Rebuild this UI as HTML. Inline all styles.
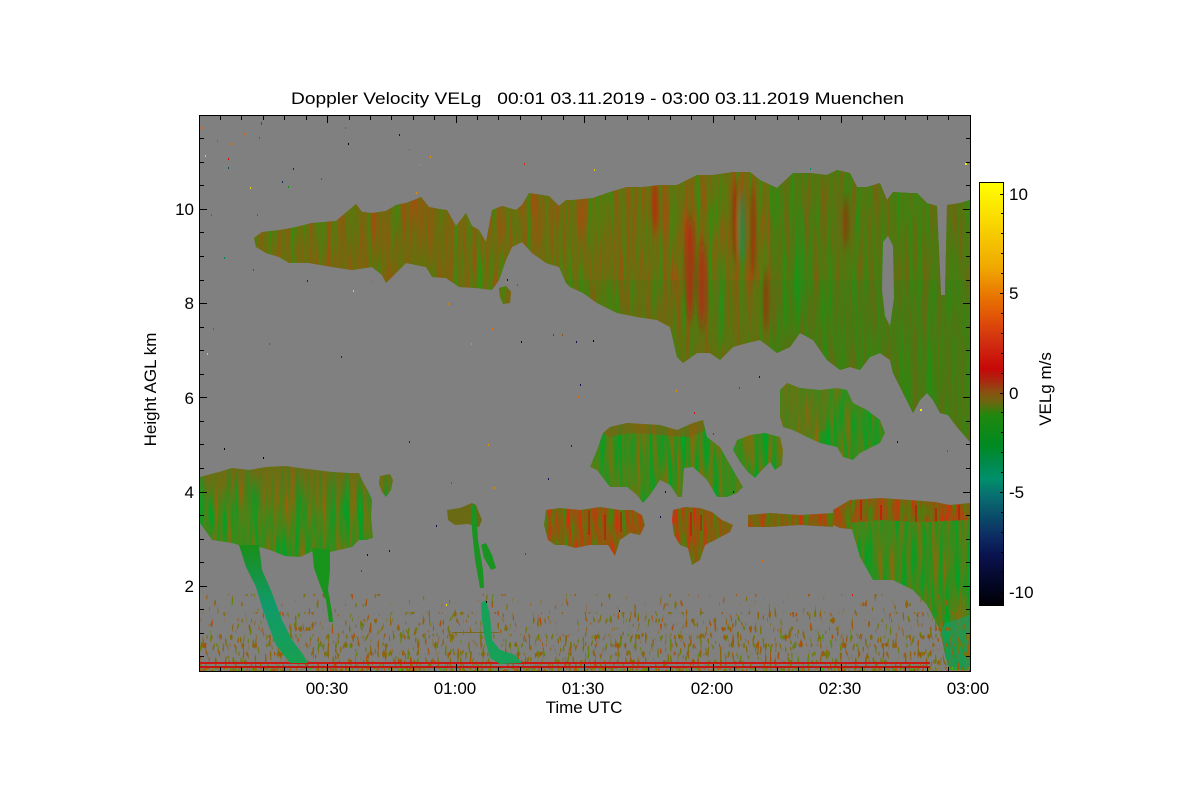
<!DOCTYPE html>
<html><head><meta charset="utf-8"><style>html,body{margin:0;padding:0;background:#fff}svg{display:block}</style></head>
<body>
<svg width="1200" height="800" viewBox="0 0 1200 800" xmlns="http://www.w3.org/2000/svg" font-family="'Liberation Sans', Arial, sans-serif">
<defs>
<filter id="tMix" filterUnits="userSpaceOnUse" x="199" y="115" width="772" height="557" color-interpolation-filters="sRGB">
<feTurbulence type="fractalNoise" baseFrequency="0.22 0.01" numOctaves="3" seed="3"/>
<feColorMatrix type="matrix" values="-1.25 0 0 0 1.05  0.65 0 0 0 0.10  0 0 0 0 0.06  0 0 0 0 1"/>
</filter>
<filter id="tOlive" filterUnits="userSpaceOnUse" x="199" y="115" width="772" height="557" color-interpolation-filters="sRGB">
<feTurbulence type="fractalNoise" baseFrequency="0.22 0.012" numOctaves="3" seed="11"/>
<feColorMatrix type="matrix" values="-0.7 0 0 0 0.78  0.4 0 0 0 0.23  0 0 0 0 0.06  0 0 0 0 1"/>
</filter>
<filter id="tGreen" filterUnits="userSpaceOnUse" x="199" y="115" width="772" height="557" color-interpolation-filters="sRGB">
<feTurbulence type="fractalNoise" baseFrequency="0.22 0.015" numOctaves="3" seed="21"/>
<feColorMatrix type="matrix" values="-1.0 0 0 0 0.75  0.4 0 0 0 0.33  0.2 0 0 0 0.0  0 0 0 0 1"/>
</filter>
<filter id="tBrown" filterUnits="userSpaceOnUse" x="199" y="115" width="772" height="557" color-interpolation-filters="sRGB">
<feTurbulence type="fractalNoise" baseFrequency="0.25 0.03" numOctaves="3" seed="31"/>
<feColorMatrix type="matrix" values="-1.0 0 0 0 1.03  0.6 0 0 0 0.06  0 0 0 0 0.05  0 0 0 0 1"/>
</filter>
<filter id="spkA" filterUnits="userSpaceOnUse" x="200" y="594" width="770" height="77" color-interpolation-filters="sRGB">
<feTurbulence type="fractalNoise" baseFrequency="0.35 0.1" numOctaves="1" seed="7"/>
<feColorMatrix type="matrix" values="0 -0.7 0 0 0.88  0 0.5 0 0 0.16  0 0 0 0 0.05  20 0 0 0 -13.2"/>
</filter>
<filter id="spkB" filterUnits="userSpaceOnUse" x="200" y="612" width="770" height="59" color-interpolation-filters="sRGB">
<feTurbulence type="fractalNoise" baseFrequency="0.4 0.12" numOctaves="1" seed="19"/>
<feColorMatrix type="matrix" values="0 -0.7 0 0 0.88  0 0.5 0 0 0.16  0 0 0 0 0.05  20 0 0 0 -12.6"/>
</filter>
<filter id="spkC" filterUnits="userSpaceOnUse" x="200" y="634" width="770" height="37" color-interpolation-filters="sRGB">
<feTurbulence type="fractalNoise" baseFrequency="0.4 0.12" numOctaves="1" seed="29"/>
<feColorMatrix type="matrix" values="0 -0.8 0 0 0.92  0 0.6 0 0 0.12  0 0 0 0 0.05  20 0 0 0 -12.2"/>
</filter>
<filter id="spkD" filterUnits="userSpaceOnUse" x="200" y="667" width="770" height="4" color-interpolation-filters="sRGB">
<feTurbulence type="fractalNoise" baseFrequency="0.5 0.3" numOctaves="1" seed="41"/>
<feColorMatrix type="matrix" values="0 -1.2 0 0 1.1  0 0.9 0 0 0.05  0 0 0 0 0.06  20 0 0 0 -10.6"/>
</filter>
<filter id="bl" filterUnits="userSpaceOnUse" x="199" y="115" width="772" height="557">
<feGaussianBlur stdDeviation="1.5 7"/>
</filter>
<linearGradient id="cbar" x1="0" y1="0" x2="0" y2="1">
<stop offset="0" stop-color="#ffff00"/>
<stop offset="0.10" stop-color="#f8d400"/>
<stop offset="0.20" stop-color="#f0a800"/>
<stop offset="0.27" stop-color="#e87400"/>
<stop offset="0.32" stop-color="#e05208"/>
<stop offset="0.38" stop-color="#d02c10"/>
<stop offset="0.44" stop-color="#c80808"/>
<stop offset="0.47" stop-color="#a82a10"/>
<stop offset="0.495" stop-color="#8a5010"/>
<stop offset="0.52" stop-color="#6a6810"/>
<stop offset="0.55" stop-color="#20880e"/>
<stop offset="0.62" stop-color="#008a20"/>
<stop offset="0.66" stop-color="#008a48"/>
<stop offset="0.70" stop-color="#00906a"/>
<stop offset="0.74" stop-color="#087070"/>
<stop offset="0.79" stop-color="#0a4c6a"/>
<stop offset="0.84" stop-color="#0c2a62"/>
<stop offset="0.88" stop-color="#0a1450"/>
<stop offset="0.93" stop-color="#060a30"/>
<stop offset="1" stop-color="#000005"/>
</linearGradient>
<linearGradient id="gDrip" x1="0" y1="545" x2="0" y2="665" gradientUnits="userSpaceOnUse">
<stop offset="0" stop-color="#1a8e18"/><stop offset="0.5" stop-color="#109a6a"/><stop offset="1" stop-color="#18a050"/>
</linearGradient>
<linearGradient id="gBrTop" x1="0" y1="465" x2="0" y2="515" gradientUnits="userSpaceOnUse">
<stop offset="0" stop-color="#8a5a10" stop-opacity="0.6"/><stop offset="1" stop-color="#8a5a10" stop-opacity="0"/>
</linearGradient>
<clipPath id="cMain">
<polygon points="254,238 262,232 280,230 296,227 312,223 336,221 349,210 356,204 362,212 372,213 386,211 396,205 406,203 414,200 421,197 429,207 439,209 447,210 456,226 466,213 472,226 479,230 486,242 492,210 502,206 516,210 522,205 529,193 549,196 559,206 566,200 573,200 593,198 610,192 627,187 643,187 660,185 677,185 697,175 713,175 733,172 750,172 760,180 777,188 793,173 810,173 827,175 837,170 850,173 857,187 867,187 880,183 887,200 893,192 910,193 917,193 927,203 937,206 941,295 945,295 947,205 960,203 970,200 970,442 957,427 948,415 940,413 933,400 927,393 920,400 913,413 903,393 893,373 890,360 880,353 870,357 860,370 850,367 840,370 827,360 813,340 800,333 790,347 777,353 760,340 747,343 733,347 720,360 710,353 697,353 683,363 677,357 670,327 657,320 637,317 617,313 597,303 583,293 570,287 566,283 559,267 546,263 532,253 522,242 512,247 506,260 499,280 492,290 476,288 459,287 446,278 432,277 426,267 406,263 396,273 386,283 382,275 372,267 352,270 332,267 309,263 289,263 279,257 266,253 256,247"/>
<polygon points="499,288 506,286 511,292 510,303 503,304 500,297"/>
</clipPath>
<clipPath id="cLeft">
<polygon points="200,477 219,472 232,468 249,470 266,467 286,466 299,468 316,470 332,472 349,473 359,473 362,480 369,493 372,500 371,517 373,538 366,540 359,540 352,547 339,550 330,552 315,550 300,557 285,556 270,550 259,547 245,547 232,543 212,540 200,523"/>
<polygon points="380,476 390,474 393,480 391,490 386,497 382,492 379,484"/>
</clipPath>
<clipPath id="cMid">
<polygon points="603,433 610,427 627,423 660,425 677,430 693,423 703,420 707,437 720,447 733,470 743,487 737,493 727,497 717,497 707,480 693,467 684,468 682,497 678,497 670,485 660,480 650,495 643,503 637,495 627,487 610,487 597,470 590,467 597,450"/>
<polygon points="737,440 750,435 765,433 780,437 783,450 782,465 775,470 770,462 762,470 755,478 748,472 740,462 733,450"/>
<polygon points="780,390 787,383 800,388 820,390 837,388 847,390 853,403 867,410 880,420 885,433 880,443 860,453 853,460 843,457 837,447 820,443 807,437 793,430 783,427 780,417"/>
</clipPath>
<clipPath id="cLow">
<polygon points="546,510 560,508 580,510 600,507 620,510 633,510 642,515 645,525 640,535 630,533 620,540 615,556 608,545 590,545 575,548 565,545 555,545 548,540 544,525"/>
<polygon points="673,510 685,507 700,508 712,512 722,520 733,525 730,532 715,540 705,545 700,560 692,565 688,548 680,545 674,535 672,520"/>
<polygon points="748,515 770,513 800,515 833,513 833,527 800,525 770,527 748,527"/>
<polygon points="833,510 850,500 880,498 910,500 935,502 950,505 970,503 970,532 940,530 900,528 860,530 840,528 833,525"/>
</clipPath>
<clipPath id="cLR">
<polygon points="850,523 880,520 920,522 970,520 970,670 950,670 945,655 940,630 927,605 913,590 893,580 873,580 860,557"/>
</clipPath>
</defs>

<rect width="1200" height="800" fill="#fff"/>
<rect x="199" y="115" width="771" height="556" fill="#808080"/>

<!-- main high cloud mass -->
<rect x="199" y="115" width="771" height="556" filter="url(#tMix)" clip-path="url(#cMain)"/>
<g clip-path="url(#cMain)">
<rect x="199" y="115" width="365" height="556" filter="url(#tOlive)" opacity="0.9"/>
<rect x="340" y="115" width="110" height="200" fill="#8a5a10" opacity="0.15"/>
<rect x="770" y="115" width="200" height="330" fill="#109018" opacity="0.28"/>
<rect x="560" y="280" width="410" height="170" fill="#109018" opacity="0.15"/>
<g filter="url(#bl)">
<ellipse cx="690" cy="268" rx="5" ry="50" fill="#c80c0c" opacity="0.6"/>
<ellipse cx="702" cy="285" rx="5" ry="42" fill="#c80c0c" opacity="0.55"/>
<ellipse cx="735" cy="222" rx="3" ry="40" fill="#c80c0c" opacity="0.45"/>
<ellipse cx="753" cy="232" rx="3" ry="45" fill="#c80c0c" opacity="0.4"/>
<ellipse cx="766" cy="300" rx="3" ry="30" fill="#c80c0c" opacity="0.4"/>
<ellipse cx="846" cy="222" rx="3" ry="25" fill="#c80c0c" opacity="0.4"/>
<ellipse cx="655" cy="205" rx="3" ry="25" fill="#c80c0c" opacity="0.35"/>
<ellipse cx="742" cy="228" rx="4" ry="35" fill="#00986a" opacity="0.5"/>
<ellipse cx="800" cy="260" rx="6" ry="60" fill="#10a020" opacity="0.3"/>
<ellipse cx="720" cy="300" rx="5" ry="45" fill="#10a020" opacity="0.3"/>
</g>
</g>
<polygon points="883,242 888,236 893,246 894,298 890,326 885,316 882,290" fill="#808080"/>

<!-- left low cloud -->
<rect x="199" y="460" width="200" height="100" filter="url(#tGreen)" clip-path="url(#cLeft)"/>
<rect x="199" y="460" width="200" height="60" fill="url(#gBrTop)" clip-path="url(#cLeft)"/>

<!-- mid-level lumps -->
<rect x="585" y="380" width="305" height="130" filter="url(#tGreen)" clip-path="url(#cMid)"/>
<polygon points="603,433 610,427 627,423 660,425 677,430 693,423 703,420 705,430 690,437 670,436 650,434 630,433 610,437" fill="#8a5a10" opacity="0.6"/>
<polygon points="780,390 787,383 800,388 820,390 830,389 825,430 807,437 793,430 783,427 780,417" fill="#8a6010" opacity="0.35"/>

<!-- low band -->
<rect x="540" y="495" width="431" height="75" filter="url(#tBrown)" clip-path="url(#cLow)"/>
<g fill="#c01010" opacity="0.55" clip-path="url(#cLow)">
<rect x="588" y="510" width="2" height="25"/><rect x="604" y="515" width="2" height="25"/>
<rect x="690" y="512" width="2" height="24"/><rect x="700" y="515" width="2" height="16"/>
<rect x="860" y="500" width="2" height="20"/><rect x="880" y="505" width="2" height="20"/>
<rect x="915" y="505" width="2" height="20"/><rect x="935" y="508" width="2" height="14"/>
<rect x="958" y="505" width="2" height="24"/><rect x="620" y="512" width="2" height="20"/>
</g>

<!-- lower right green -->
<rect x="845" y="515" width="126" height="157" filter="url(#tGreen)" clip-path="url(#cLR)"/>
<polygon points="940,625 970,615 970,670 948,670 945,650" fill="#10a070" opacity="0.6"/>

<!-- ground clutter -->
<rect x="200" y="594" width="770" height="77" filter="url(#spkA)"/>
<rect x="200" y="612" width="770" height="59" filter="url(#spkB)"/>
<rect x="200" y="634" width="770" height="37" filter="url(#spkC)"/>
<rect x="200" y="667" width="770" height="4" filter="url(#spkD)"/>
<rect x="200" y="662" width="730" height="2" fill="#c81810"/>
<rect x="200" y="666" width="730" height="2" fill="#c01810"/>
<rect x="452" y="632" width="47" height="1" fill="#7a6a20"/>

<!-- drips -->
<polygon points="239,545 259,545 262,570 272,593 282,620 292,640 302,653 308,663 290,663 276,645 269,627 262,607 256,587 246,567" fill="url(#gDrip)"/>
<polygon points="312,548 330,550 330,570 328,590 332,612 333,622 329,622 326,600 320,585 314,568" fill="#18941c"/>
<polygon points="447,510 460,508 472,503 476,505 482,520 479,527 468,524 455,525 448,520" fill="#6a6a14"/>
<polygon points="471,505 476,505 478,540 483,570 484,588 480,588 475,560 472,530" fill="#1a9420"/>
<polygon points="481,545 486,543 492,555 496,568 491,570 484,558" fill="#1a9420"/>
<polygon points="481,603 486,600 490,615 492,640 500,650 515,655 522,663 500,664 490,658 485,640 482,620" fill="#16a058"/>

<!-- scattered noise dots -->
<g>
<rect x="202" y="127" width="1" height="2" fill="#e05010"/><rect x="261" y="122" width="1" height="3" fill="#d01010"/>
<rect x="244" y="133" width="1" height="2" fill="#d06010"/><rect x="259" y="137" width="1" height="2" fill="#b04010"/>
<rect x="217" y="140" width="1" height="2" fill="#309020"/><rect x="230" y="143" width="1" height="2" fill="#e07010"/>
<rect x="205" y="155" width="1" height="2" fill="#f0d000"/><rect x="228" y="158" width="1" height="2" fill="#d01010"/>
<rect x="228" y="167" width="1" height="2" fill="#104a6a"/><rect x="293" y="168" width="1" height="2" fill="#0c2a62"/>
<rect x="282" y="181" width="1" height="2" fill="#0c2a62"/><rect x="288" y="186" width="1" height="2" fill="#109010"/>
<rect x="250" y="187" width="1" height="2" fill="#f0d000"/><rect x="321" y="178" width="1" height="2" fill="#008a48"/>
<rect x="345" y="127" width="1" height="2" fill="#00906a"/><rect x="348" y="143" width="1" height="2" fill="#000"/>
<rect x="399" y="134" width="1" height="2" fill="#0a1450"/><rect x="409" y="149" width="1" height="2" fill="#d05010"/>
<rect x="419" y="164" width="1" height="2" fill="#e08000"/><rect x="430" y="156" width="1" height="2" fill="#e09000"/>
<rect x="416" y="192" width="1" height="2" fill="#e09000"/><rect x="211" y="214" width="1" height="2" fill="#109030"/>
<rect x="257" y="214" width="1" height="2" fill="#d03010"/><rect x="524" y="163" width="1" height="2" fill="#d03010"/>
<rect x="224" y="257" width="1" height="2" fill="#008a48"/><rect x="253" y="269" width="1" height="2" fill="#d02010"/>
<rect x="307" y="280" width="1" height="2" fill="#0c2a62"/><rect x="353" y="290" width="1" height="2" fill="#f0d000"/>
<rect x="371" y="281" width="1" height="2" fill="#e05010"/><rect x="448" y="303" width="1" height="2" fill="#e08000"/>
<rect x="213" y="328" width="1" height="2" fill="#00906a"/><rect x="269" y="343" width="1" height="2" fill="#00906a"/>
<rect x="341" y="356" width="1" height="2" fill="#0c2a62"/><rect x="471" y="343" width="1" height="2" fill="#e09000"/>
<rect x="553" y="334" width="1" height="2" fill="#d01010"/><rect x="562" y="334" width="1" height="2" fill="#8a5010"/>
<rect x="521" y="341" width="1" height="2" fill="#000"/><rect x="576" y="341" width="1" height="2" fill="#0a1450"/>
<rect x="593" y="340" width="1" height="2" fill="#000"/><rect x="207" y="353" width="1" height="2" fill="#f0d000"/>
<rect x="492" y="328" width="1" height="2" fill="#e07010"/><rect x="507" y="279" width="1" height="2" fill="#0a1450"/>
<rect x="517" y="284" width="1" height="2" fill="#d03010"/><rect x="224" y="448" width="1" height="2" fill="#000"/>
<rect x="263" y="457" width="1" height="2" fill="#000"/><rect x="409" y="441" width="1" height="2" fill="#0c2a62"/>
<rect x="488" y="444" width="1" height="2" fill="#e09000"/><rect x="571" y="445" width="1" height="2" fill="#0c2a62"/>
<rect x="451" y="482" width="1" height="2" fill="#d03010"/><rect x="494" y="487" width="1" height="2" fill="#e09000"/>
<rect x="548" y="478" width="1" height="2" fill="#0a1450"/><rect x="436" y="525" width="1" height="2" fill="#0a1450"/>
<rect x="389" y="550" width="1" height="2" fill="#0a1450"/><rect x="367" y="554" width="1" height="2" fill="#0a1450"/>
<rect x="525" y="553" width="1" height="2" fill="#d01010"/><rect x="361" y="570" width="1" height="2" fill="#d01010"/>
<rect x="446" y="604" width="1" height="2" fill="#f0e000"/><rect x="486" y="601" width="1" height="2" fill="#000"/>
<rect x="580" y="384" width="1" height="2" fill="#0a1450"/><rect x="578" y="396" width="1" height="2" fill="#e07010"/>
<rect x="676" y="390" width="1" height="2" fill="#e09000"/><rect x="739" y="387" width="1" height="2" fill="#087070"/>
<rect x="759" y="376" width="1" height="2" fill="#0a1450"/><rect x="694" y="412" width="1" height="2" fill="#d01010"/>
<rect x="713" y="433" width="1" height="2" fill="#d01010"/><rect x="920" y="409" width="2" height="2" fill="#f0f000"/>
<rect x="897" y="441" width="1" height="2" fill="#0a1450"/><rect x="947" y="450" width="1" height="2" fill="#d03010"/>
<rect x="933" y="483" width="1" height="2" fill="#e07010"/><rect x="665" y="491" width="1" height="2" fill="#0a1450"/>
<rect x="660" y="516" width="1" height="2" fill="#0a1450"/><rect x="733" y="491" width="1" height="2" fill="#0a1450"/>
<rect x="762" y="560" width="1" height="2" fill="#e07010"/><rect x="852" y="594" width="1" height="2" fill="#d02010"/>
<rect x="619" y="610" width="1" height="2" fill="#0a1450"/><rect x="965" y="163" width="2" height="2" fill="#f0f000"/>
<rect x="594" y="169" width="1" height="2" fill="#f0c000"/><rect x="810" y="168" width="1" height="2" fill="#00906a"/>
</g>

<!-- axes frame & ticks -->
<g stroke="#000" stroke-width="1" fill="none" shape-rendering="crispEdges">
<rect x="199.5" y="115.5" width="771" height="556"/>
<path d="M220.5 671v-4M241.5 671v-4M263.5 671v-4M284.5 671v-4M306.5 671v-4M327.5 671v-7M349.5 671v-4M370.5 671v-4M391.5 671v-4M413.5 671v-4M434.5 671v-4M456.5 671v-7M477.5 671v-4M498.5 671v-4M520.5 671v-4M541.5 671v-4M563.5 671v-4M584.5 671v-7M605.5 671v-4M627.5 671v-4M648.5 671v-4M670.5 671v-4M691.5 671v-4M713.5 671v-7M734.5 671v-4M755.5 671v-4M777.5 671v-4M798.5 671v-4M820.5 671v-4M841.5 671v-7M862.5 671v-4M884.5 671v-4M905.5 671v-4M927.5 671v-4M948.5 671v-4"/>
<path d="M220.5 116v4M241.5 116v4M263.5 116v4M284.5 116v4M306.5 116v4M327.5 116v7M349.5 116v4M370.5 116v4M391.5 116v4M413.5 116v4M434.5 116v4M456.5 116v7M477.5 116v4M498.5 116v4M520.5 116v4M541.5 116v4M563.5 116v4M584.5 116v7M605.5 116v4M627.5 116v4M648.5 116v4M670.5 116v4M691.5 116v4M713.5 116v7M734.5 116v4M755.5 116v4M777.5 116v4M798.5 116v4M820.5 116v4M841.5 116v7M862.5 116v4M884.5 116v4M905.5 116v4M927.5 116v4M948.5 116v4"/>
<path d="M200 656.5h4M200 633.5h4M200 609.5h4M200 586.5h7M200 562.5h4M200 539.5h4M200 515.5h4M200 492.5h7M200 468.5h4M200 444.5h4M200 421.5h4M200 397.5h7M200 374.5h4M200 350.5h4M200 327.5h4M200 303.5h7M200 280.5h4M200 256.5h4M200 232.5h4M200 209.5h7M200 185.5h4M200 162.5h4M200 138.5h4"/>
<path d="M970 656.5h-4M970 633.5h-4M970 609.5h-4M970 586.5h-7M970 562.5h-4M970 539.5h-4M970 515.5h-4M970 492.5h-7M970 468.5h-4M970 444.5h-4M970 421.5h-4M970 397.5h-7M970 374.5h-4M970 350.5h-4M970 327.5h-4M970 303.5h-7M970 280.5h-4M970 256.5h-4M970 232.5h-4M970 209.5h-7M970 185.5h-4M970 162.5h-4M970 138.5h-4"/>
</g>

<!-- colorbar -->
<rect x="980" y="183" width="23" height="422" fill="url(#cbar)"/>
<g stroke="#000" stroke-width="1" fill="none" shape-rendering="crispEdges">
<rect x="979.5" y="182.5" width="24" height="423"/>
<path d="M1003 194.5h-3M1003 213.5h-2M1003 233.5h-2M1003 253.5h-2M1003 273.5h-2M1003 293.5h-3M1003 313.5h-2M1003 333.5h-2M1003 353.5h-2M1003 373.5h-2M1003 393.5h-3M1003 412.5h-2M1003 432.5h-2M1003 452.5h-2M1003 472.5h-2M1003 492.5h-3M1003 512.5h-2M1003 532.5h-2M1003 552.5h-2M1003 572.5h-2M1003 592.5h-3"/>
</g>

<!-- text -->
<g fill="#000" font-size="17">
<text x="597.5" y="104" text-anchor="middle" textLength="613" lengthAdjust="spacingAndGlyphs">Doppler Velocity VELg&#160;&#160; 00:01 03.11.2019 - 03:00 03.11.2019 Muenchen</text>
<g text-anchor="end">
<text x="194" y="592">2</text>
<text x="194" y="498">4</text>
<text x="194" y="404">6</text>
<text x="194" y="309">8</text>
<text x="194" y="215">10</text>
</g>
<g text-anchor="middle">
<text x="327" y="694">00:30</text>
<text x="455" y="694">01:00</text>
<text x="583" y="694">01:30</text>
<text x="712" y="694">02:00</text>
<text x="840" y="694">02:30</text>
<text x="968" y="694">03:00</text>
<text x="584" y="713">Time UTC</text>
</g>
<text transform="translate(156,389.5) rotate(-90)" text-anchor="middle">Height AGL km</text>
<text transform="translate(1051,389) rotate(-90)" text-anchor="middle">VELg m/s</text>
<text x="1009" y="200">10</text>
<text x="1009" y="299">5</text>
<text x="1009" y="399">0</text>
<text x="1009" y="498">-5</text>
<text x="1009" y="598">-10</text>
</g>
</svg>
</body></html>
